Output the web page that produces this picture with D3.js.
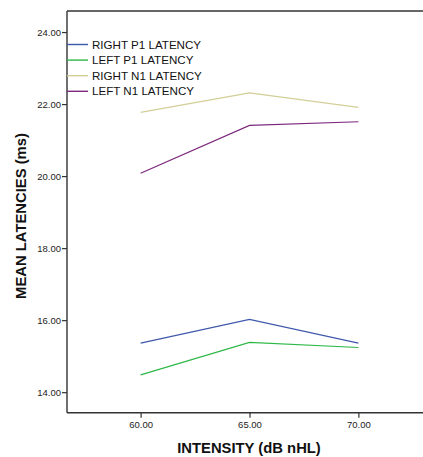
<!DOCTYPE html>
<html>
<head>
<meta charset="utf-8">
<script src="https://cdn.jsdelivr.net/npm/d3@7"></script>
<style>
  body { margin: 0; background: #fff; overflow: hidden; }
  svg { display: block; overflow: hidden; font-family: Arial, "Liberation Sans", sans-serif; }
</style>
</head>
<body>
<div id="chart-area"></div>
<script>
// data
const intensities = [60, 65, 70];
const seriesNames = ['RIGHT P1 LATENCY', 'LEFT P1 LATENCY', 'RIGHT N1 LATENCY', 'LEFT N1 LATENCY'];
const rightP1 = [15.36, 16.02, 15.36];
const leftP1 = [14.48, 15.38, 15.24];
const rightN1 = [21.77, 22.31, 21.91];
const leftN1 = [20.08, 21.41, 21.51];
const yTicks = [14, 16, 18, 20, 22, 24];

window.addEventListener('DOMContentLoaded', (event) => {

    const colors = ['#3e58ac', '#2eb848', '#d3ce97', '#7c287d'];
    const allSeries = [rightP1, leftP1, rightN1, leftN1];

    const margin = { top: 11, left: 67, bottom: 44 };
    const W = 423, H = 457;

    const svg = d3.select('#chart-area')
        .append('svg')
        .attr('width', W)
        .attr('height', H);

    // the plot area runs past the right edge of the picture
    const x = d3.scaleLinear()
        .domain([56.62, 73.38])
        .range([margin.left, 432]);

    const y = d3.scaleLinear()
        .domain([13.43, 24.585])
        .range([H - margin.bottom - 0.3, margin.top]);

    const x0 = x.range()[0];
    const y0 = y.range()[0], y1 = y.range()[1];

    // frame: top, left and bottom sides as separate lines
    const frame = svg.append('g')
        .attr('stroke', '#333')
        .attr('stroke-width', 1.4);

    frame.append('line')
        .attr('x1', x0).attr('x2', W)
        .attr('y1', y1).attr('y2', y1);

    frame.append('line')
        .attr('x1', x0).attr('x2', x0)
        .attr('y1', y1).attr('y2', y0);

    frame.append('line')
        .attr('x1', x0).attr('x2', W)
        .attr('y1', y0).attr('y2', y0);

    const leftAxis = d3.axisLeft(y)
        .tickValues(yTicks)
        .tickFormat(d3.format('.2f'))
        .tickSize(5)
        .tickPadding(1);

    const bottomAxis = d3.axisBottom(x)
        .tickValues(intensities)
        .tickFormat(d3.format('.2f'))
        .tickSize(5)
        .tickPadding(4);

    svg.append('g')
        .attr('class', 'axis left')
        .attr('transform', `translate(${x0},0)`)
        .call(leftAxis)
        .call(g => g.select('.domain').remove());

    svg.append('g')
        .attr('class', 'axis bottom')
        .attr('transform', `translate(0,${y0})`)
        .call(bottomAxis)
        .call(g => g.select('.domain').remove());

    svg.selectAll('.axis line')
        .attr('stroke', '#333')
        .attr('stroke-width', 1.2);

    svg.selectAll('.axis text')
        .attr('fill', '#222')
        .style('font-size', '9.5px')
        .style('font-family', 'Arial, "Liberation Sans", sans-serif');

    // lines
    const line = d3.line()
        .x((d, i) => x(intensities[i]))
        .y(d => y(d));

    svg.append('g')
        .selectAll('path')
        .data(allSeries)
        .join('path')
        .attr('d', line)
        .attr('fill', 'none')
        .attr('stroke', (d, i) => colors[i])
        .attr('stroke-width', 1.2);

    // legend
    const legend = svg.append('g')
        .attr('transform', `translate(${x0},44.5)`);

    const items = legend.selectAll('g')
        .data(seriesNames)
        .join('g')
        .attr('transform', (d, i) => `translate(0,${i * 15.6})`);

    items.append('line')
        .attr('x1', 0)
        .attr('x2', 21)
        .attr('stroke', (d, i) => colors[i])
        .attr('stroke-width', 1.4);

    items.append('text')
        .attr('x', 25)
        .attr('dy', '0.36em')
        .attr('fill', '#111')
        .style('font-size', '11.6px')
        .text(d => d);

    // axis titles
    svg.append('text')
        .attr('x', 249)
        .attr('y', 448)
        .attr('dy', '0.36em')
        .attr('text-anchor', 'middle')
        .style('font-size', '14.8px')
        .style('font-weight', 'bold')
        .attr('fill', '#111')
        .text('INTENSITY (dB nHL)');

    svg.append('text')
        .attr('transform', `translate(21,216) rotate(-90)`)
        .attr('dy', '0.36em')
        .attr('text-anchor', 'middle')
        .style('font-size', '14.8px')
        .style('font-weight', 'bold')
        .attr('fill', '#111')
        .text('MEAN LATENCIES (ms)');

}); // End of document ready.
</script>
</body>
</html>
